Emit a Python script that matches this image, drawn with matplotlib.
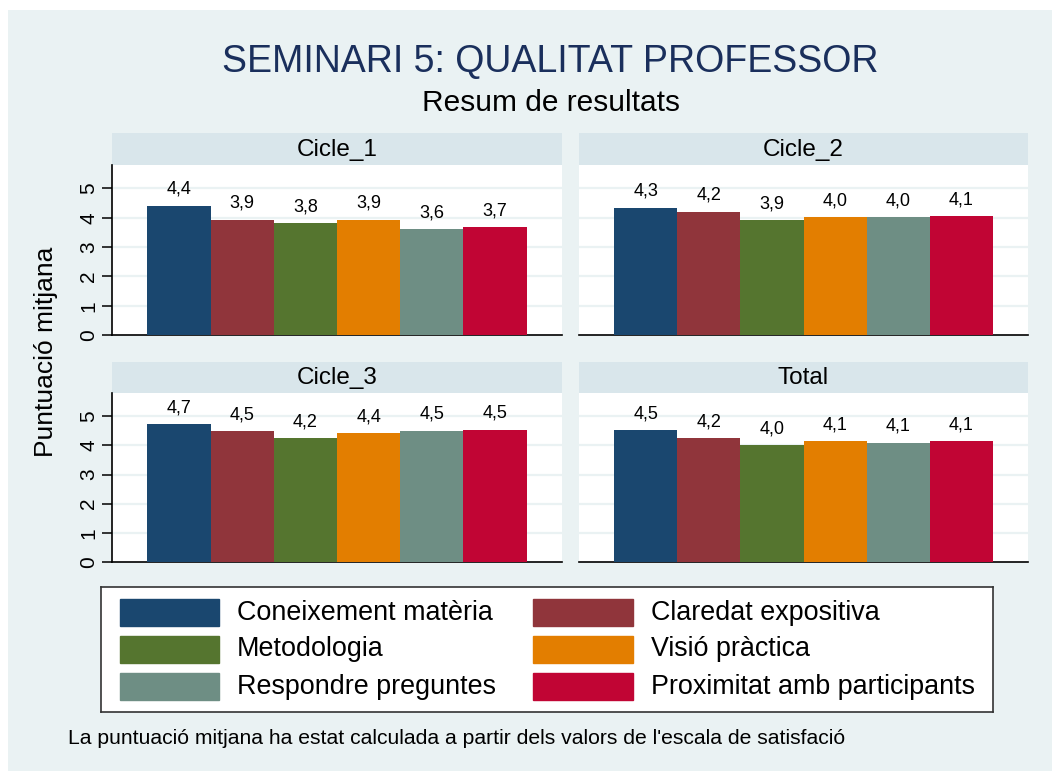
import matplotlib
matplotlib.use("Agg")
import matplotlib.pyplot as plt
from matplotlib.patches import Rectangle

plt.rcParams['font.family'] = ['Liberation Sans', 'DejaVu Sans']

# data
panels = ["Cicle_1", "Cicle_2", "Cicle_3", "Total"]
series = ["Coneixement matèria", "Claredat expositiva", "Metodologia",
          "Visió pràctica", "Respondre preguntes", "Proximitat amb participants"]
coneixement = [4.41, 4.34, 4.74, 4.53]
claredat = [3.94, 4.21, 4.48, 4.24]
metodologia = [3.81, 3.91, 4.24, 4.01]
visio = [3.94, 4.02, 4.43, 4.14]
respondre = [3.62, 4.02, 4.51, 4.10]
proximitat = [3.68, 4.06, 4.54, 4.14]
values = [coneixement, claredat, metodologia, visio, respondre, proximitat]
colors = ["#1A476F", "#90353B", "#55752F", "#E37E00", "#6E8E84", "#C10534"]
yticks = [0, 1, 2, 3, 4, 5]

W, H = 1052, 771
BG = "#EAF2F3"
STRIP = "#D9E6EB"

fig = plt.figure(figsize=(W / 100, H / 100), dpi=100)
fig.patch.set_facecolor("white")


def rect(x0, y0, x1, y1):
    return [x0 / W, 1 - y1 / H, (x1 - x0) / W, (y1 - y0) / H]


# graph region background (white margin top/left)
bg = fig.add_axes(rect(8, 10, W, H))
bg.set_facecolor(BG)
bg.set_xticks([])
bg.set_yticks([])
for s in bg.spines.values():
    s.set_visible(False)

fig.text(550 / W, 1 - 62 / H, "SEMINARI 5: QUALITAT PROFESSOR", ha="center", va="center",
         fontsize=27, color="#1A2F5C")
fig.text(551 / W, 1 - 103 / H, "Resum de resultats", ha="center", va="center",
         fontsize=21.5, color="black")

boxes = [(112, 165, 562, 335, 133), (579, 165, 1028, 335, 133),
         (112, 393, 562, 562, 362), (579, 393, 1028, 562, 362)]

for i, name in enumerate(panels):
    x0, y0, x1, y1, sy = boxes[i]
    st = fig.add_axes(rect(x0, sy, x1, y0))
    st.set_facecolor(STRIP)
    st.set_xticks([])
    st.set_yticks([])
    for s in st.spines.values():
        s.set_visible(False)
    st.text(0.5, 0.48, name, ha="center", va="center", fontsize=17.5, transform=st.transAxes)

    ax = fig.add_axes(rect(x0, y0, x1, y1))
    ax.set_facecolor("white")
    for j in range(len(series)):
        v = values[j][i]
        ax.bar(j, v, width=1.0, color=colors[j], zorder=3)
        ax.annotate(f"{v:.1f}".replace(".", ","), (j, v), xytext=(0, 8.5),
                    textcoords="offset points", ha="center", va="baseline", fontsize=13)
    ax.set_xlim(-1.06, 6.06)
    ax.set_ylim(0, 5.8)
    ax.set_xticks([])
    for t in yticks[1:]:
        ax.axhline(t, color=BG, lw=1.6, zorder=1)
    ax.spines["top"].set_visible(False)
    ax.spines["right"].set_visible(False)
    ax.spines["bottom"].set_linewidth(1.2)
    if i % 2 == 0:
        ax.spines["left"].set_linewidth(1.2)
        ax.set_yticks(yticks)
        ax.set_yticklabels([str(t) for t in yticks], rotation=90, va="center", fontsize=15)
        ax.tick_params(axis="y", length=7, width=1.1, pad=3)
    else:
        ax.spines["left"].set_visible(False)
        ax.set_yticks([])

fig.text(46 / W, 1 - 352 / H, "Puntuació mitjana", rotation=90, ha="center", va="center",
         fontsize=19)

# legend
lg = fig.add_axes(rect(101, 587, 993, 712))
lg.set_facecolor("white")
lg.set_xlim(101, 993)
lg.set_ylim(712, 587)
lg.set_xticks([])
lg.set_yticks([])
for s in lg.spines.values():
    s.set_color("#333333")
    s.set_linewidth(1.2)
col_x = [(120, 219, 237), (533, 633, 651)]
row_y = [(599, 626), (636, 663), (673, 700)]
for k, label in enumerate(series):
    r, c = divmod(k, 2)
    px0, px1, tx = col_x[c]
    ry0, ry1 = row_y[r]
    lg.add_patch(Rectangle((px0, ry0), px1 - px0, ry1 - ry0, color=colors[k]))
    lg.text(tx, (ry0 + ry1) / 2, label, ha="left", va="center", fontsize=19.4)

fig.text(68 / W, 1 - 738 / H,
         "La puntuació mitjana ha estat calculada a partir dels valors de l'escala de satisfació",
         ha="left", va="center", fontsize=15.2)

fig.savefig("out.png", dpi=100, facecolor=fig.get_facecolor())
